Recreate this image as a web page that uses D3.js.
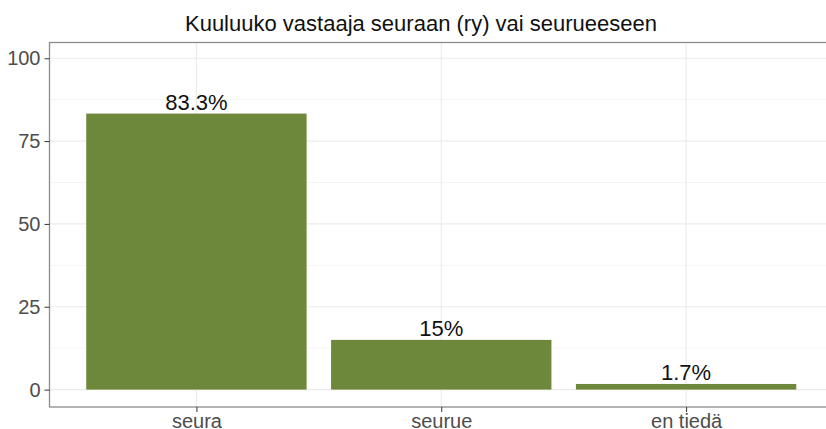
<!DOCTYPE html>
<html>
<head>
<meta charset="utf-8">
<script src="https://cdn.jsdelivr.net/npm/d3@7"></script>
<style>
  body { margin: 0; background: #fff; }
  svg { display: block; font-family: "Liberation Sans", Arial, sans-serif; }
</style>
</head>
<body>
<div id="chart"></div>
<script>
// data
const categories = ['seura', 'seurue', 'en tiedä'];
const values = [83.3, 15, 1.7];
const labels = ['83.3%', '15%', '1.7%'];
const yTicks = [0, 25, 50, 75, 100];
const yMinor = [12.5, 37.5, 62.5, 87.5];
const title = 'Kuuluuko vastaaja seuraan (ry) vai seurueeseen';

const width = 826, height = 429;
const pLeft = 49.5, pRight = 833, pTop = 42.5, pBottom = 407;

const svg = d3.select('#chart').append('svg')
  .attr('width', width)
  .attr('height', height);

// x scale: discrete with 0.6 expansion like ggplot
const step = (pRight - pLeft) / (categories.length - 1 + 1.2);
const x = d3.scalePoint()
  .domain(categories)
  .range([pLeft + 0.6 * step, pRight - 0.6 * step]);
const barW = step * 0.9;

const y = d3.scaleLinear().domain([-5.25, 104.75]).range([pBottom, pTop]);

const panel = svg.append('g');

// minor grid
panel.selectAll('.minor').data(yMinor).enter().append('line')
  .attr('x1', pLeft).attr('x2', pRight)
  .attr('y1', d => y(d)).attr('y2', d => y(d))
  .attr('stroke', '#f2f2f2').attr('stroke-width', 0.8);

// major grid
panel.selectAll('.major').data(yTicks).enter().append('line')
  .attr('x1', pLeft).attr('x2', pRight)
  .attr('y1', d => y(d)).attr('y2', d => y(d))
  .attr('stroke', '#ebebeb').attr('stroke-width', 1.1);

panel.selectAll('.vgrid').data(categories).enter().append('line')
  .attr('x1', d => x(d)).attr('x2', d => x(d))
  .attr('y1', pTop).attr('y2', pBottom)
  .attr('stroke', '#ebebeb').attr('stroke-width', 1.1);

// bars
panel.selectAll('.bar').data(values).enter().append('rect')
  .attr('x', (d, i) => x(categories[i]) - barW / 2)
  .attr('width', barW)
  .attr('y', d => y(d))
  .attr('height', d => y(0) - y(d))
  .attr('fill', '#6e883b');

// value labels
panel.selectAll('.lbl').data(values).enter().append('text')
  .attr('x', (d, i) => x(categories[i]))
  .attr('y', d => y(d) - 4)
  .attr('text-anchor', 'middle')
  .attr('font-size', 22)
  .attr('fill', '#111')
  .text((d, i) => labels[i]);

// panel border
svg.append('rect')
  .attr('x', pLeft).attr('y', pTop)
  .attr('width', pRight - pLeft).attr('height', pBottom - pTop)
  .attr('fill', 'none')
  .attr('stroke', '#8c8c8c')
  .attr('stroke-width', 1.3);

// y axis
const yAxis = svg.append('g')
  .attr('transform', `translate(${pLeft},0)`)
  .call(d3.axisLeft(y).tickValues(yTicks).tickSize(5).tickPadding(4));
yAxis.select('.domain').remove();
yAxis.selectAll('line').attr('stroke', '#333');
yAxis.selectAll('text').attr('font-size', 20).attr('fill', '#4d4d4d')
  .attr('font-family', '"Liberation Sans", Arial, sans-serif');

// x axis
const xAxis = svg.append('g')
  .attr('transform', `translate(0,${pBottom})`)
  .call(d3.axisBottom(x).tickSize(5).tickPadding(2));
xAxis.select('.domain').remove();
xAxis.selectAll('line').attr('stroke', '#333');
xAxis.selectAll('text').attr('font-size', 20).attr('fill', '#4d4d4d')
  .attr('font-family', '"Liberation Sans", Arial, sans-serif');

// title
svg.append('text')
  .attr('x', 421)
  .attr('y', 31)
  .attr('text-anchor', 'middle')
  .attr('font-size', 22)
  .attr('fill', '#111')
  .text(title);
</script>
</body>
</html>
